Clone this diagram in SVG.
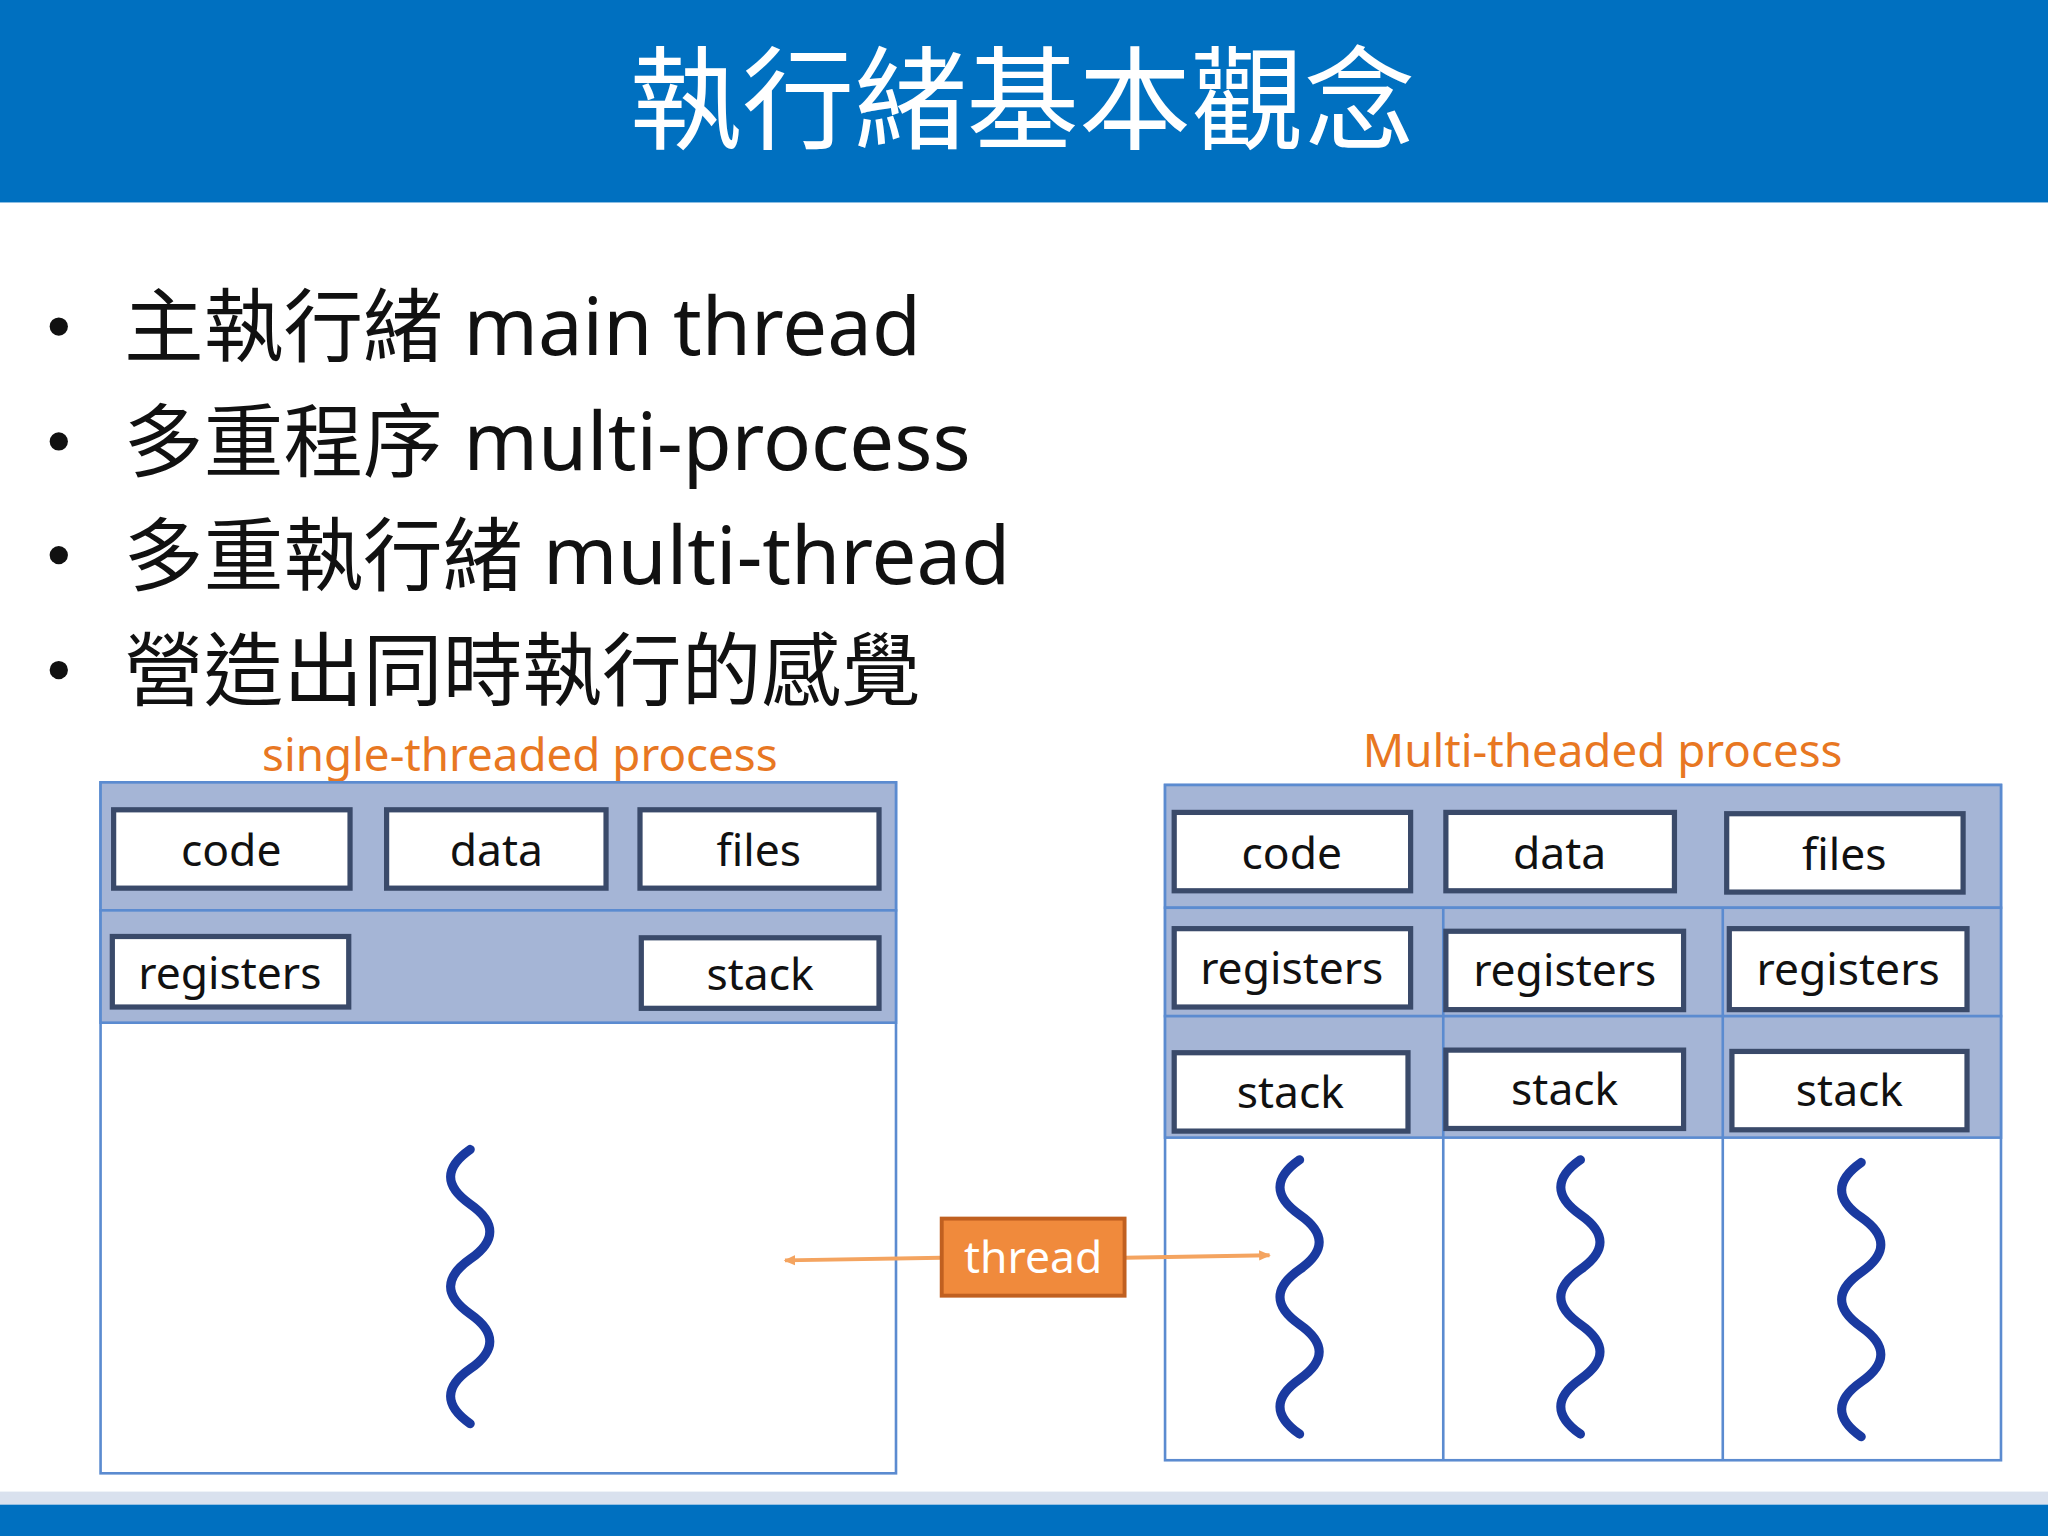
<svg xmlns="http://www.w3.org/2000/svg" width="2048" height="1536" viewBox="0 0 2048 1536">
<style>
.cjk{font-family:"Noto Sans CJK TC","Noto Sans",sans-serif}
.t{font-family:"Noto Sans","Noto Sans CJK TC",sans-serif}
.band{fill:#A5B5D6;stroke:#5B8BD0;stroke-width:2}
.wb{fill:#fff;stroke:#5B8BD0;stroke-width:2}
.box{fill:#fff;stroke:#3A4A6A;stroke-width:4}
.bt{font-family:"Noto Sans",sans-serif;font-size:34px;fill:#111;text-anchor:middle}
.sq{fill:none;stroke:#1A3AA0;stroke-width:7;stroke-linecap:round}
.ar{stroke:#F4A460;stroke-width:3;fill:none;marker-end:url(#ah)}
</style>
<defs><marker id="ah" markerWidth="10" markerHeight="10" refX="8" refY="5" orient="auto" markerUnits="userSpaceOnUse"><path d="M0,1 L9,5 L0,9 Z" fill="#F4A460"/></marker></defs>
<rect width="2048" height="1536" fill="#fff"/>
<g transform="scale(1.30612)">
<rect x="0" y="0" width="1568" height="155" fill="#0070C0"/>
<text x="783" y="108" class="cjk" font-size="86" fill="#fff" text-anchor="middle">執行緒基本觀念</text>
<g class="t" font-size="61" fill="#111">
<circle cx="45" cy="250" r="7"/><text x="95" y="272">主執行緒 main thread</text>
<circle cx="45" cy="338" r="7"/><text x="95" y="360">多重程序 multi-process</text>
<circle cx="45" cy="425" r="7"/><text x="95" y="447">多重執行緒 multi-thread</text>
<circle cx="45" cy="513" r="7"/><text x="95" y="535">營造出同時執行的感覺</text>
</g>
<text x="398" y="590" class="t" font-size="35" fill="#E87722" text-anchor="middle">single-threaded process</text>
<text x="1227" y="587" class="t" font-size="35" fill="#E87722" text-anchor="middle">Multi-theaded process</text>
<g id="single">
<rect class="wb" x="77" y="599" width="609" height="529"/>
<rect class="band" x="77" y="599" width="609" height="98"/>
<rect class="band" x="77" y="697" width="609" height="86"/>
<rect class="box" x="87" y="620" width="181" height="60"/><text class="bt" x="177" y="663">code</text>
<rect class="box" x="296" y="620" width="168" height="60"/><text class="bt" x="380" y="663">data</text>
<rect class="box" x="490" y="620" width="183" height="60"/><text class="bt" x="581" y="663">files</text>
<rect class="box" x="86" y="717" width="181" height="54"/><text class="bt" x="176" y="757">registers</text>
<rect class="box" x="491" y="718" width="182" height="54"/><text class="bt" x="582" y="758">stack</text>
<path class="sq" d="M360,880 q-30,21 0,42 t0,42 t0,42 t0,42 t0,42"/>
</g>
<g id="multi">
<rect class="wb" x="892" y="601" width="640" height="517"/>
<rect class="band" x="892" y="601" width="640" height="94"/>
<rect class="band" x="892" y="695" width="640" height="83"/>
<rect class="band" x="892" y="778" width="640" height="93"/>
<line x1="1105" y1="695" x2="1105" y2="1118" stroke="#5B8BD0" stroke-width="2"/>
<line x1="1319" y1="695" x2="1319" y2="1118" stroke="#5B8BD0" stroke-width="2"/>
<rect class="box" x="899" y="622" width="181" height="60"/><text class="bt" x="989" y="665">code</text>
<rect class="box" x="1107" y="622" width="175" height="60"/><text class="bt" x="1194" y="665">data</text>
<rect class="box" x="1322" y="623" width="181" height="60"/><text class="bt" x="1412" y="666">files</text>
<rect class="box" x="899" y="711" width="181" height="60"/><text class="bt" x="989" y="753">registers</text>
<rect class="box" x="1107" y="713" width="182" height="60"/><text class="bt" x="1198" y="755">registers</text>
<rect class="box" x="1324" y="711" width="182" height="62"/><text class="bt" x="1415" y="754">registers</text>
<rect class="box" x="899" y="806" width="179" height="60"/><text class="bt" x="988" y="848">stack</text>
<rect class="box" x="1107" y="804" width="182" height="60"/><text class="bt" x="1198" y="846">stack</text>
<rect class="box" x="1326" y="805" width="180" height="60"/><text class="bt" x="1416" y="847">stack</text>
<path class="sq" d="M995,888 q-30,21 0,42 t0,42 t0,42 t0,42 t0,42"/>
<path class="sq" d="M1210,888 q-30,21 0,42 t0,42 t0,42 t0,42 t0,42"/>
<path class="sq" d="M1425,890 q-30,21 0,42 t0,42 t0,42 t0,42 t0,42"/>
</g>
<g id="connectors">
<path class="ar" d="M721,963 L601,965"/>
<path class="ar" d="M861,963 L972,961"/>
</g>
<g id="thread">
<rect x="721" y="933" width="140" height="59" fill="#F08A3C" stroke="#C06020" stroke-width="3"/>
<text x="791" y="975" class="t" font-size="34" fill="#fff" text-anchor="middle">thread</text>
</g>
<rect x="0" y="1142" width="1568" height="10" fill="#D9E1EE"/>
<rect x="0" y="1152" width="1568" height="24" fill="#0070C0"/>
</g>
</svg>
